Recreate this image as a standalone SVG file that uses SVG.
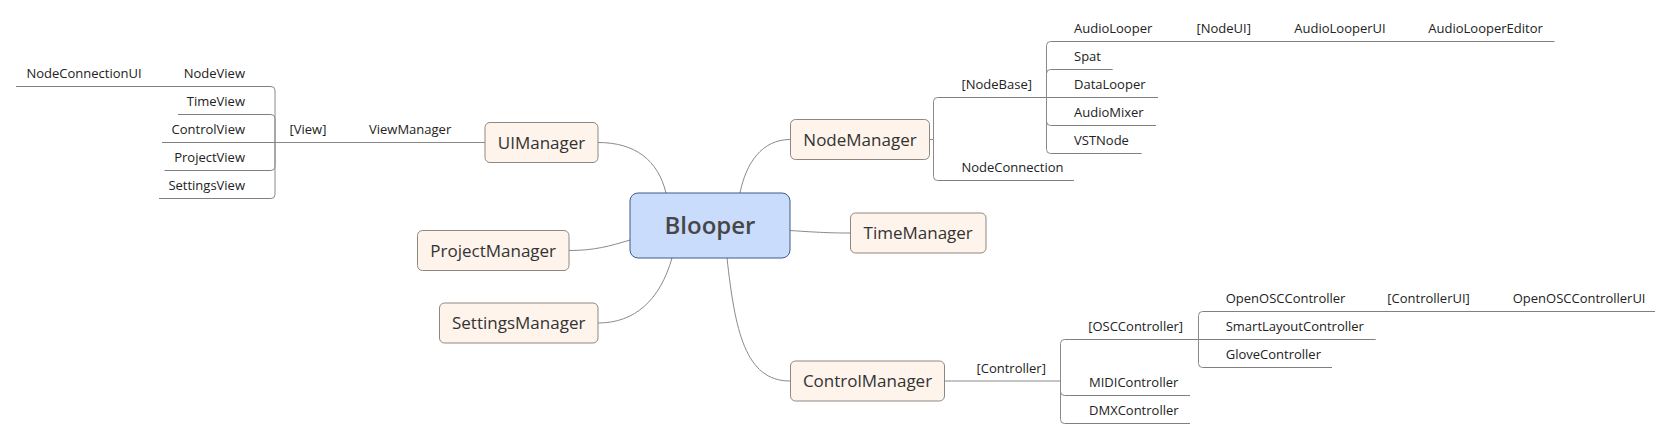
<svg xmlns="http://www.w3.org/2000/svg" width="1671" height="439" viewBox="0 0 1671 439">
<style>
.bg{fill:#ffffff}
.main rect{fill:#fef4eb;stroke:#8f8680;stroke-width:1}
.main text{font-family:"Open Sans","Noto Sans",sans-serif;font-size:17px;fill:#333333;text-anchor:middle}
.root rect{fill:#c9dcfb;stroke:#3f5b88;stroke-width:1}
.root text{font-family:"Open Sans","Noto Sans",sans-serif;font-size:24px;font-weight:600;fill:#474747;text-anchor:middle}
.sub text{font-family:"Open Sans","Noto Sans",sans-serif;font-size:13px;fill:#222222}
.sub line{stroke:#808080;stroke-width:1}
.l text{text-anchor:end}
#connectors path{fill:none;stroke:#8a8a8a;stroke-width:1}
</style>
<rect class="bg" x="0" y="0" width="1671" height="439"/>

<g id="connectors">
  <!-- root to main topics -->
  <path d="M666,193 C658,160 635,142.5 598,142.5"/>
  <path d="M740,193 C746,163 762,139.5 790,139.5"/>
  <path d="M790,230.5 C820,232.5 830,233 850,233"/>
  <path d="M630,240 C610,246 595,250.5 569,250.5"/>
  <path d="M672,258 C660,300 635,323 598,323"/>
  <path d="M727,258 C735,330 745,381 790,381"/>
  <!-- UIManager chain -->
  <path d="M485,142.5 H275"/>
  <path d="M275,142.5 V90.5 Q275,86.5 271,86.5"/>
  <path d="M275,142.5 V118.5 Q275,114.5 271,114.5"/>
  <path d="M275,142.5 V166.5 Q275,170.5 271,170.5"/>
  <path d="M275,142.5 V194.5 Q275,198.5 271,198.5"/>
  <!-- NodeManager -->
  <path d="M929.5,139.5 H933.5"/>
  <path d="M933.5,139.5 V101.5 Q933.5,97.5 937.5,97.5"/>
  <path d="M933.5,139.5 V176.5 Q933.5,180.5 937.5,180.5"/>
  <path d="M1046.5,97.5 V45.5 Q1046.5,41.5 1050.5,41.5"/>
  <path d="M1046.5,97.5 V73.5 Q1046.5,69.5 1050.5,69.5"/>
  <path d="M1046.5,97.5 V121.5 Q1046.5,125.5 1050.5,125.5"/>
  <path d="M1046.5,97.5 V149.5 Q1046.5,153.5 1050.5,153.5"/>
  <!-- ControlManager -->
  <path d="M945,381 H1060.5"/>
  <path d="M1060.5,381 V343.5 Q1060.5,339.5 1064.5,339.5"/>
  <path d="M1060.5,381 V391.5 Q1060.5,395.5 1064.5,395.5"/>
  <path d="M1060.5,381 V419.5 Q1060.5,423.5 1064.5,423.5"/>
  <path d="M1198.5,339.5 V315.5 Q1198.5,311.5 1202.5,311.5"/>
  <path d="M1198.5,339.5 V363.5 Q1198.5,367.5 1202.5,367.5"/>
</g>

<g id="root" class="root">
  <rect x="630" y="193" width="160" height="65" rx="8" ry="8"/>
  <text x="710" y="234">Blooper</text>
</g>

<g id="UIManager" class="main"><rect x="485" y="122.5" width="113" height="40" rx="5"/><text x="541.5" y="148.5">UIManager</text></g>
<g id="ProjectManager" class="main"><rect x="417.5" y="230.5" width="151.5" height="40" rx="5"/><text x="493.2" y="256.5">ProjectManager</text></g>
<g id="SettingsManager" class="main"><rect x="439.5" y="303" width="158.5" height="40" rx="5"/><text x="518.7" y="329">SettingsManager</text></g>
<g id="NodeManager" class="main"><rect x="790.5" y="119.5" width="139" height="40" rx="5"/><text x="860" y="145.5">NodeManager</text></g>
<g id="TimeManager" class="main"><rect x="850.5" y="213" width="135.5" height="40" rx="5"/><text x="918.2" y="239">TimeManager</text></g>
<g id="ControlManager" class="main"><rect x="790.5" y="361" width="154" height="40" rx="5"/><text x="867.5" y="387">ControlManager</text></g>

<!-- UIManager subtree (left) -->
<g id="ViewManager" class="sub"><text x="369" y="134">ViewManager</text></g>
<g id="View" class="sub"><text x="289.5" y="134">[View]</text></g>
<g id="NodeView" class="sub l"><line x1="177" y1="86.5" x2="271" y2="86.5"/><text x="245" y="78">NodeView</text></g>
<g id="NodeConnectionUI" class="sub"><line x1="16" y1="86.5" x2="177" y2="86.5"/><text x="26.5" y="78">NodeConnectionUI</text></g>
<g id="TimeView" class="sub l"><line x1="178" y1="114.5" x2="271" y2="114.5"/><text x="245" y="106">TimeView</text></g>
<g id="ControlView" class="sub l"><line x1="162" y1="142.5" x2="275" y2="142.5"/><text x="245" y="134">ControlView</text></g>
<g id="ProjectView" class="sub l"><line x1="164.5" y1="170.5" x2="271" y2="170.5"/><text x="245" y="162">ProjectView</text></g>
<g id="SettingsView" class="sub l"><line x1="159" y1="198.5" x2="271" y2="198.5"/><text x="245" y="190">SettingsView</text></g>

<!-- NodeManager subtree -->
<g id="NodeBase" class="sub"><line x1="937.5" y1="97.5" x2="1046.5" y2="97.5"/><text x="961.5" y="89">[NodeBase]</text></g>
<g id="NodeConnection" class="sub"><line x1="937.5" y1="180.5" x2="1074" y2="180.5"/><text x="961.5" y="172">NodeConnection</text></g>
<g id="AudioLooper" class="sub"><line x1="1050.5" y1="41.5" x2="1180" y2="41.5"/><text x="1074" y="33">AudioLooper</text></g>
<g id="NodeUI" class="sub"><line x1="1180" y1="41.5" x2="1275" y2="41.5"/><text x="1196.5" y="33">[NodeUI]</text></g>
<g id="AudioLooperUI" class="sub"><line x1="1275" y1="41.5" x2="1410" y2="41.5"/><text x="1294.3" y="33">AudioLooperUI</text></g>
<g id="AudioLooperEditor" class="sub"><line x1="1410" y1="41.5" x2="1554.5" y2="41.5"/><text x="1428.3" y="33">AudioLooperEditor</text></g>
<g id="Spat" class="sub"><line x1="1050.5" y1="69.5" x2="1112.7" y2="69.5"/><text x="1074" y="61">Spat</text></g>
<g id="DataLooper" class="sub"><line x1="1046.5" y1="97.5" x2="1158" y2="97.5"/><text x="1074" y="89">DataLooper</text></g>
<g id="AudioMixer" class="sub"><line x1="1050.5" y1="125.5" x2="1156" y2="125.5"/><text x="1074" y="117">AudioMixer</text></g>
<g id="VSTNode" class="sub"><line x1="1050.5" y1="153.5" x2="1141.7" y2="153.5"/><text x="1074" y="145">VSTNode</text></g>

<!-- ControlManager subtree -->
<g id="Controller" class="sub"><text x="976.5" y="373">[Controller]</text></g>
<g id="OSCController" class="sub"><line x1="1064.5" y1="339.5" x2="1198.5" y2="339.5"/><text x="1088.2" y="331">[OSCController]</text></g>
<g id="OpenOSCController" class="sub"><line x1="1202.5" y1="311.5" x2="1365" y2="311.5"/><text x="1225.7" y="303">OpenOSCController</text></g>
<g id="ControllerUI" class="sub"><line x1="1365" y1="311.5" x2="1495" y2="311.5"/><text x="1387.3" y="303">[ControllerUI]</text></g>
<g id="OpenOSCControllerUI" class="sub"><line x1="1495" y1="311.5" x2="1655" y2="311.5"/><text x="1512.7" y="303">OpenOSCControllerUI</text></g>
<g id="SmartLayoutController" class="sub"><line x1="1198.5" y1="339.5" x2="1375.7" y2="339.5"/><text x="1225.7" y="331">SmartLayoutController</text></g>
<g id="GloveController" class="sub"><line x1="1202.5" y1="367.5" x2="1332" y2="367.5"/><text x="1225.7" y="359">GloveController</text></g>
<g id="MIDIController" class="sub"><line x1="1064.5" y1="395.5" x2="1190" y2="395.5"/><text x="1089" y="387">MIDIController</text></g>
<g id="DMXController" class="sub"><line x1="1064.5" y1="423.5" x2="1190" y2="423.5"/><text x="1089" y="415">DMXController</text></g>
</svg>
